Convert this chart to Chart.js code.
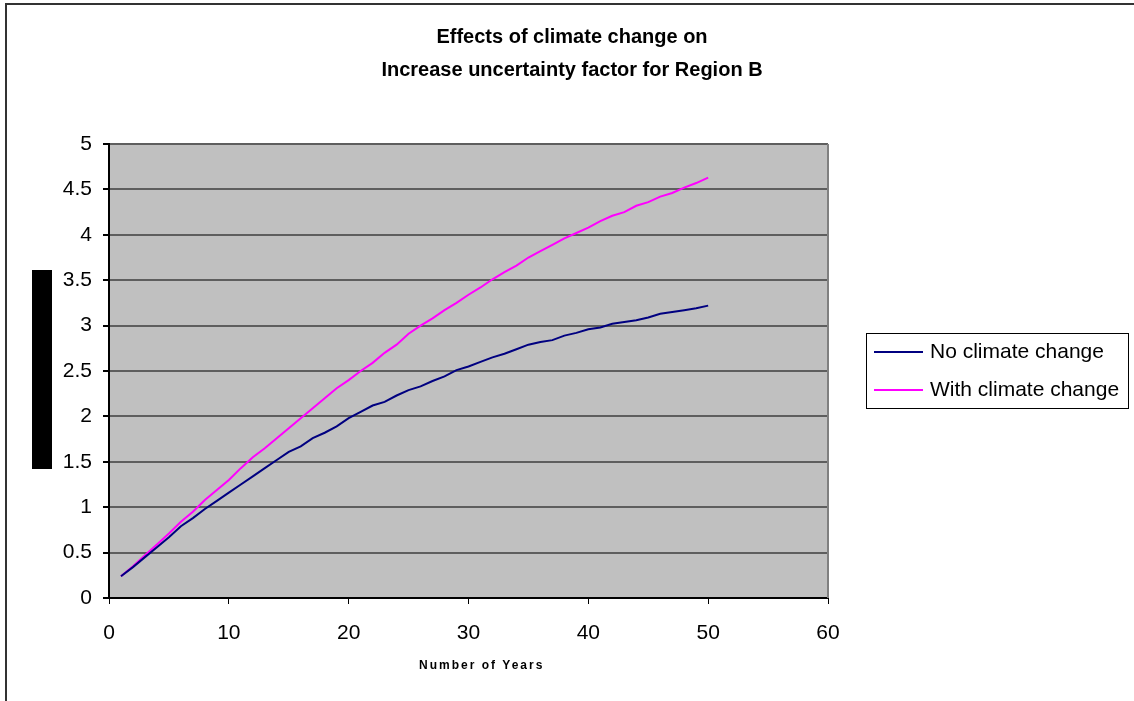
<!DOCTYPE html>
<html>
<head>
<meta charset="utf-8">
<title>Increase uncertainty factor for Region B</title>
<script src="https://cdn.jsdelivr.net/npm/chart.js@4.4.1/dist/chart.umd.min.js"></script>
<style>
  html, body { margin: 0; padding: 0; background: #fff; }
  canvas { display: block; }
</style>
</head>
<body>
<canvas id="uncertaintyChart" width="1134" height="701"></canvas>
<script>
// yearly values, years 1..50
const years = [
    1, 2, 3, 4, 5, 6, 7, 8, 9, 10,
    11, 12, 13, 14, 15, 16, 17, 18, 19, 20,
    21, 22, 23, 24, 25, 26, 27, 28, 29, 30,
    31, 32, 33, 34, 35, 36, 37, 38, 39, 40,
    41, 42, 43, 44, 45, 46, 47, 48, 49, 50
];
const noClimateChange = [
    0.24, 0.34, 0.45, 0.56, 0.67, 0.79, 0.88, 0.98, 1.07, 1.16,
    1.25, 1.34, 1.43, 1.52, 1.61, 1.67, 1.76, 1.82, 1.89, 1.98,
    2.05, 2.12, 2.16, 2.23, 2.29, 2.33, 2.39, 2.44, 2.51, 2.55,
    2.60, 2.65, 2.69, 2.74, 2.79, 2.82, 2.84, 2.89, 2.92, 2.96,
    2.98, 3.02, 3.04, 3.06, 3.09, 3.13, 3.15, 3.17, 3.19, 3.22
];
const withClimateChange = [
    0.24, 0.35, 0.47, 0.59, 0.71, 0.84, 0.95, 1.08, 1.19, 1.30,
    1.43, 1.55, 1.65, 1.76, 1.87, 1.98, 2.09, 2.20, 2.31, 2.40,
    2.50, 2.59, 2.70, 2.79, 2.91, 3.00, 3.08, 3.17, 3.25, 3.34,
    3.42, 3.51, 3.59, 3.66, 3.75, 3.82, 3.89, 3.96, 4.02, 4.08,
    4.15, 4.21, 4.25, 4.32, 4.36, 4.42, 4.46, 4.52, 4.57, 4.63
];
const seriesNames = ['No climate change', 'With climate change'];
const seriesColors = ['#000080', '#ff00ff'];
const yTicks = [0, 0.5, 1, 1.5, 2, 2.5, 3, 3.5, 4, 4.5, 5];
const xTicks = [0, 10, 20, 30, 40, 50, 60];
const chartTitle = ['Effects of climate change on', 'Increase uncertainty factor for Region B'];
const xAxisTitle = 'Number of Years';

const FONT = '"Liberation Sans", Arial, sans-serif';

// background of the plot, outer frame, title, legend and axis caption
const chartDecor = {
    id: 'chartDecor',
    beforeDraw(chart) {
        const { ctx, chartArea: a } = chart;
        ctx.save();
        ctx.fillStyle = '#c0c0c0';
        ctx.fillRect(a.left, a.top, a.right - a.left, a.bottom - a.top);
        ctx.restore();
    },
    afterDraw(chart) {
        const { ctx, chartArea: a } = chart;
        ctx.save();

        // right edge of the plot
        ctx.strokeStyle = '#808080';
        ctx.lineWidth = 2;
        ctx.beginPath();
        ctx.moveTo(a.right, a.top);
        ctx.lineTo(a.right, a.bottom);
        ctx.stroke();

        // outer frame (runs off the canvas on the right and bottom)
        ctx.strokeStyle = '#333';
        ctx.lineWidth = 2;
        ctx.strokeRect(6, 4, 1200, 800);

        // y axis caption block
        ctx.fillStyle = '#000';
        ctx.fillRect(32, 270, 20, 199);

        // title
        ctx.fillStyle = '#000';
        ctx.font = 'bold 20px ' + FONT;
        ctx.textAlign = 'center';
        ctx.textBaseline = 'middle';
        ctx.fillText(chartTitle[0], 572, 37);
        ctx.fillText(chartTitle[1], 572, 70);

        // x axis caption
        ctx.font = 'bold 12px ' + FONT;
        ctx.letterSpacing = '2px';
        ctx.textAlign = 'left';
        ctx.fillText(xAxisTitle, 419, 666);
        ctx.letterSpacing = '0px';

        // legend
        ctx.fillStyle = '#fff';
        ctx.fillRect(867, 333, 262, 75);
        ctx.strokeStyle = '#000';
        ctx.lineWidth = 1;
        ctx.strokeRect(866.5, 333.5, 262, 75);
        ctx.font = '21px ' + FONT;
        chart.data.datasets.forEach((ds, i) => {
            const y = 352 + i * 38;
            ctx.strokeStyle = ds.borderColor;
            ctx.lineWidth = 2;
            ctx.beginPath();
            ctx.moveTo(874, y);
            ctx.lineTo(923, y);
            ctx.stroke();
            ctx.fillStyle = '#000';
            ctx.fillText(ds.label, 930, y);
        });

        ctx.restore();
    }
};

const ctx = document.getElementById('uncertaintyChart').getContext('2d');
const uncertaintyChart = new Chart(ctx, {
    type: 'line',
    data: {
        datasets: [noClimateChange, withClimateChange].map((vals, i) => ({
            label: seriesNames[i],
            data: years.map((yr, j) => ({ x: yr, y: vals[j] })),
            borderColor: seriesColors[i],
            backgroundColor: seriesColors[i],
            borderWidth: 2,
            pointRadius: 0,
            tension: 0,
            fill: false
        }))
    },
    options: {
        responsive: false,
        animation: false,
        layout: { padding: { top: 144, right: 306, left: 0, bottom: 0 } },
        scales: {
            x: {
                type: 'linear',
                min: xTicks[0],
                max: xTicks[xTicks.length - 1],
                afterBuildTicks: (scale) => { scale.ticks = xTicks.map(v => ({ value: v })); },
                afterFit: (scale) => { scale.height = 103; },
                grid: { drawOnChartArea: false, tickColor: '#000', tickLength: 6 },
                border: { color: '#000', width: 2 },
                ticks: {
                    color: '#000',
                    padding: 17,
                    maxRotation: 0,
                    font: { family: FONT, size: 21 },
                    callback: (v) => String(v)
                }
            },
            y: {
                min: yTicks[0],
                max: yTicks[yTicks.length - 1],
                afterBuildTicks: (scale) => { scale.ticks = yTicks.map(v => ({ value: v })); },
                afterFit: (scale) => { scale.width = 109; },
                grid: { color: '#5e5e5e', lineWidth: 2, tickColor: '#000', tickLength: 6 },
                border: { color: '#000', width: 2 },
                ticks: {
                    color: '#000',
                    padding: 11,
                    font: { family: FONT, size: 21 },
                    callback: (v) => String(v)
                }
            }
        },
        plugins: {
            legend: { display: false },
            title: { display: false },
            tooltip: { enabled: false }
        }
    },
    plugins: [chartDecor]
});
</script>
</body>
</html>
